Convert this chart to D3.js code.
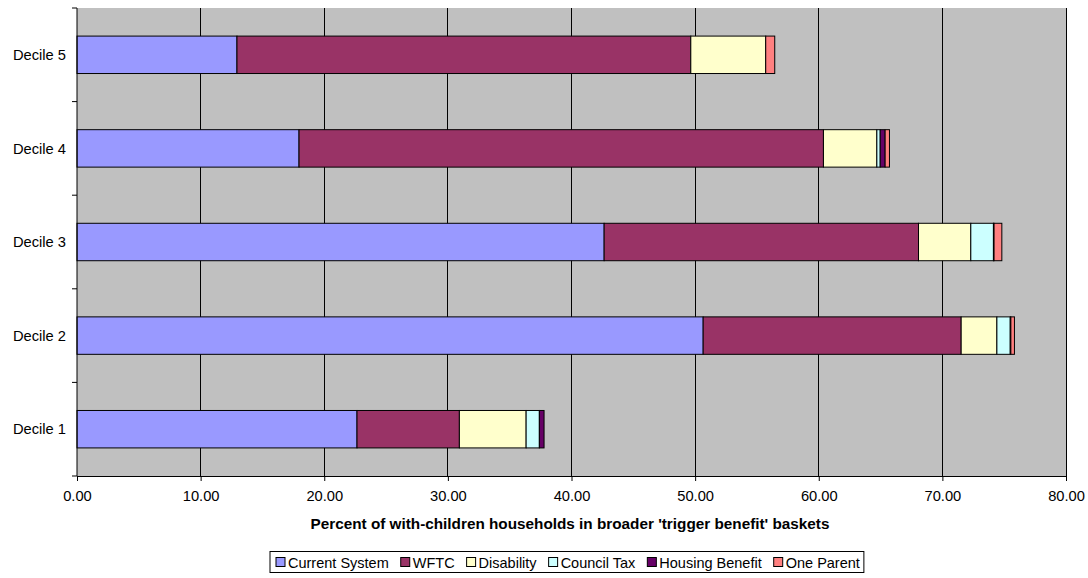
<!DOCTYPE html>
<html>
<head>
<meta charset="utf-8">
<script src="https://cdn.jsdelivr.net/npm/d3@7"></script>
<style>
  html, body { margin: 0; padding: 0; background: #ffffff; }
  svg { display: block; font-family: "Liberation Sans", Arial, sans-serif; }
</style>
</head>
<body>
<svg id="chart" width="1088" height="578"></svg>
<script>
// Decile categories, drawn bottom (Decile 1) to top (Decile 5)
const categories = ["Decile 1", "Decile 2", "Decile 3", "Decile 4", "Decile 5"];
const seriesNames = ["Current System", "WFTC", "Disability", "Council Tax", "Housing Benefit", "One Parent"];

// Segment values (percentage points) per decile, in category order
const currentSystem  = [22.65, 50.65, 42.64, 17.96, 12.94];
const wftc           = [8.28, 20.87, 25.43, 42.42, 36.71];
const disability     = [5.40, 2.89, 4.23, 4.32, 6.06];
const councilTax     = [1.07, 1.08, 1.83, 0.27, 0.00];
const housingBenefit = [0.38, 0.05, 0.05, 0.40, 0.00];
const oneParent      = [0.00, 0.29, 0.63, 0.35, 0.73];

const xTicks = [0, 10, 20, 30, 40, 50, 60, 70, 80];
const colors = ["#9999FF", "#993366", "#FFFFCC", "#CCFFFF", "#660066", "#FF8080"];
const fontSize = 14.7;

const seriesValues = [currentSystem, wftc, disability, councilTax, housingBenefit, oneParent];
const rows = categories.map((c, i) => {
  const r = { category: c };
  seriesNames.forEach((s, j) => { r[s] = seriesValues[j][i]; });
  return r;
});

const svg = d3.select("#chart");
const plot = { left: 77, right: 1066, top: 8, bottom: 476 };

const x = d3.scaleLinear().domain([0, 80]).range([plot.left, plot.right]);
const y = d3.scaleBand()
  .domain(categories.slice().reverse())
  .range([plot.top, plot.bottom])
  .paddingInner(0.6).paddingOuter(0.3);

// Plot background
svg.append("rect")
  .attr("x", plot.left).attr("y", plot.top)
  .attr("width", plot.right - plot.left).attr("height", plot.bottom - plot.top)
  .attr("fill", "#C0C0C0");

// Vertical gridlines
svg.append("g").selectAll("line").data(xTicks.slice(1)).join("line")
  .attr("x1", d => x(d)).attr("x2", d => x(d))
  .attr("y1", plot.top).attr("y2", plot.bottom)
  .attr("stroke", "#000").attr("stroke-width", 1)
  .attr("shape-rendering", "crispEdges");

// Stacked bars
const stack = d3.stack().keys(seriesNames)(rows);
const layers = svg.append("g").selectAll("g").data(stack).join("g")
  .attr("fill", (d, i) => colors[i]);
layers.selectAll("rect")
  .data(d => d.filter(p => p[1] - p[0] > 0))
  .join("rect")
  .attr("x", d => x(d[0]))
  .attr("y", d => y(d.data.category))
  .attr("width", d => x(d[1]) - x(d[0]))
  .attr("height", y.bandwidth())
  .attr("stroke", "#000").attr("stroke-width", 1);

// X axis
const xAxis = d3.axisBottom(x).tickValues(xTicks)
  .tickFormat(d3.format(".2f")).tickSize(5).tickSizeOuter(0);
const gx = svg.append("g").attr("transform", `translate(0,${plot.bottom})`).call(xAxis);
gx.select(".domain").attr("stroke", "#000");
gx.selectAll("line").attr("stroke", "#000");
gx.selectAll("text").attr("font-size", fontSize).attr("fill", "#000").attr("dy", "1.15em")
  .attr("font-family", "Liberation Sans, Arial, sans-serif");

// Y axis: category labels with ticks on the band boundaries
const gy = svg.append("g");
gy.append("line")
  .attr("x1", plot.left).attr("x2", plot.left)
  .attr("y1", plot.top).attr("y2", plot.bottom)
  .attr("stroke", "#000");
const step = (plot.bottom - plot.top) / categories.length;
const boundaries = d3.range(categories.length + 1).map(i => plot.top + i * step);
gy.selectAll("line.tick").data(boundaries).join("line").attr("class", "tick")
  .attr("x1", plot.left - 5).attr("x2", plot.left)
  .attr("y1", d => d).attr("y2", d => d)
  .attr("stroke", "#000");
gy.selectAll("text").data(categories).join("text")
  .attr("x", plot.left - 11)
  .attr("y", d => y(d) + y.bandwidth() / 2)
  .attr("dy", "0.35em")
  .attr("text-anchor", "end")
  .attr("font-size", fontSize)
  .text(d => d);

// X axis title
svg.append("text")
  .attr("x", 570)
  .attr("y", 529)
  .attr("text-anchor", "middle")
  .attr("font-size", 15.3).attr("font-weight", "bold")
  .text("Percent of with-children households in broader 'trigger benefit' baskets");

// Legend
const legend = svg.append("g");
const legendBox = legend.append("rect")
  .attr("x", 270).attr("y", 551.5).attr("width", 593).attr("height", 21)
  .attr("fill", "#fff").attr("stroke", "#000");
let lx = 276;
seriesNames.forEach((s, i) => {
  legend.append("rect")
    .attr("x", lx).attr("y", 557.5).attr("width", 9).attr("height", 9)
    .attr("fill", colors[i]).attr("stroke", "#000");
  const t = legend.append("text")
    .attr("x", lx + 12).attr("y", 567.5)
    .attr("font-size", 14.5)
    .text(s);
  lx += 12 + t.node().getComputedTextLength() + 12;
});
legendBox.attr("width", lx - 12 + 4 - 270);
</script>
</body>
</html>
